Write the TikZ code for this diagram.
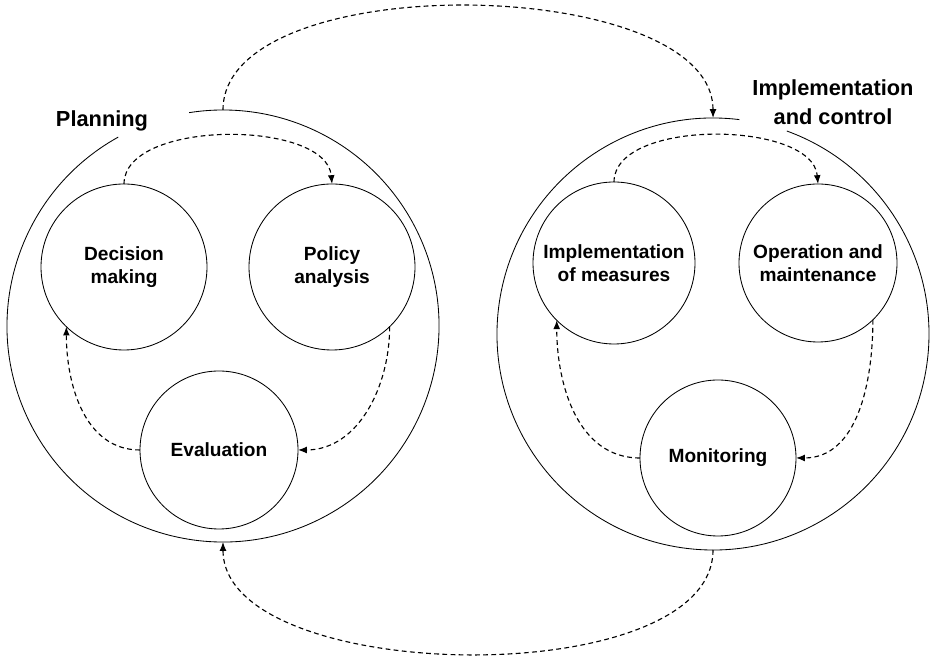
\documentclass[tikz,border=0pt]{standalone}
\usepackage{fontspec}
\setmainfont{Liberation Sans}
\usetikzlibrary{arrows.meta}
\tikzset{
  stage/.style={draw, circle, line width=0.6pt, inner sep=0pt, outer sep=0pt, align=center,
    font=\fontsize{13.6}{16.4}\selectfont\bfseries},
  phase/.style={circle, inner sep=0pt, outer sep=0pt, minimum size=108mm},
  ring/.style={line width=0.6pt},
  flow/.style={line width=0.8pt, dash pattern=on 3.4pt off 2.4pt,
    -{Latex[length=2.2mm,width=1.7mm]}},
  title/.style={align=center, font=\fontsize{15.5}{20.5}\selectfont\bfseries}
}

\begin{document}
\begin{tikzpicture}[x=0.25mm, y=0.25mm]
  \useasboundingbox (0,0) rectangle (932,663);

  % the two phases
  \node[phase] (plan) at (223,337) {};
  \node[phase] (impl) at (713,329) {};
  \draw[ring] (plan.119) arc[start angle=119, end angle=459, radius=54mm];
  \draw[ring] (impl.83) arc[start angle=83, end angle=430, radius=54mm];

  \node[title] (plantxt) at (102,542) {Planning};
  \node[title] (impltxt) at (833,561) {Implementation\\and control};

  % planning cycle
  \node[stage, minimum size=41.5mm] (dec) at (124,396) {Decision\\making};
  \node[stage, minimum size=41.5mm] (pol) at (332,396) {Policy\\analysis};
  \node[stage, minimum size=39.5mm] (eva) at (219,213) {Evaluation};

  \draw[flow] (dec.north) to[out=90, in=95, looseness=0.8] (pol.north);
  \draw[flow] (pol.-46) to[out=-90, in=0] (eva.east);
  \draw[flow] (eva.west) to[out=180, in=-90] (dec.-134);

  % implementation cycle
  \node[stage, minimum size=40.5mm] (mea) at (614,400) {Implementation\\of measures};
  \node[stage, minimum size=39.5mm] (ope) at (818,400) {Operation and\\maintenance};
  \node[stage, minimum size=39mm] (mon) at (718,205) {Monitoring};

  \draw[flow] (mea.north) to[out=90, in=95, looseness=0.8] (ope.north);
  \draw[flow] (ope.-46) to[out=-90, in=0] (mon.east);
  \draw[flow] (mon.west) to[out=180, in=-90] (mea.-135);

  % between the phases
  \draw[flow] (plan.north) to[out=90, in=90, looseness=0.75] (impl.north);
  \draw[flow] (impl.south) to[out=-90, in=-90, looseness=0.75] (plan.south);
\end{tikzpicture}
\end{document}
